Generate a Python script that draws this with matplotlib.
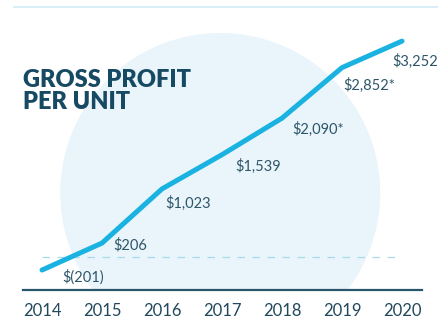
import matplotlib
matplotlib.use("Agg")
import matplotlib.pyplot as plt
from matplotlib.patches import Ellipse
from matplotlib.lines import Line2D

years = [2014, 2015, 2016, 2017, 2018, 2019, 2020]
profit = [-201, 206, 1023, 1539, 2090, 2852, 3252]
labels = ["$(201)", "$206", "$1,023", "$1,539", "$2,090*", "$2,852*", "$3,252*"]

# label placement relative to each point, in pixels
label_offsets = [(20, -7), (11, -2), (3, -14), (13, -12), (10, -11), (1, -18), (-10, -20)]

plt.rcParams["font.family"] = ["Lato", "DejaVu Sans"]

fig = plt.figure(figsize=(4.38, 3.32), dpi=100)
fig.patch.set_facecolor("white")
ax = fig.add_axes([23 / 438, 42 / 332, 399 / 438, 290 / 332])
ax.set_xlim(2013.683, 2020.333)
ax.set_ylim(-502, 3872)

# pale backdrop circle
ax.add_patch(Ellipse((2016.97, 961), 5.333, 4827, color="#eaf5fb", lw=0, zorder=0))

# zero reference
ax.plot([years[0], years[-1]], [0, 0], color="#a9d9ea", lw=0.9,
        dashes=(6, 6), zorder=1)

ax.plot(years, profit, color="#1ab2e0", lw=3.6, solid_capstyle="round",
        solid_joinstyle="round", zorder=3)

for x, y, txt, off in zip(years, profit, labels, label_offsets):
    ax.annotate(txt, (x, y), xytext=off, textcoords="offset pixels",
                ha="left", va="center", fontsize=10.5, color="#2d5669",
                annotation_clip=False)

for s in ["top", "right", "left"]:
    ax.spines[s].set_visible(False)
ax.spines["bottom"].set_color("#2a566c")
ax.spines["bottom"].set_linewidth(1.6)
ax.set_yticks([])
ax.set_xticks(years)
ax.set_xticklabels([str(y) for y in years])
ax.tick_params(axis="x", length=0, pad=9, labelsize=12, labelcolor="#21485c")
ax.set_facecolor("none")

ax.text(0, 0.685, "GROSS PROFIT\nPER UNIT", transform=ax.transAxes,
        fontsize=17, fontweight="heavy", color="#164a63",
        ha="left", va="center", linespacing=1.0)

fig.add_artist(Line2D([14 / 438, 1], [1 - 7 / 332, 1 - 7 / 332],
                      color="#d9eef6", lw=1.5))

fig.savefig("out.png", dpi=100)
